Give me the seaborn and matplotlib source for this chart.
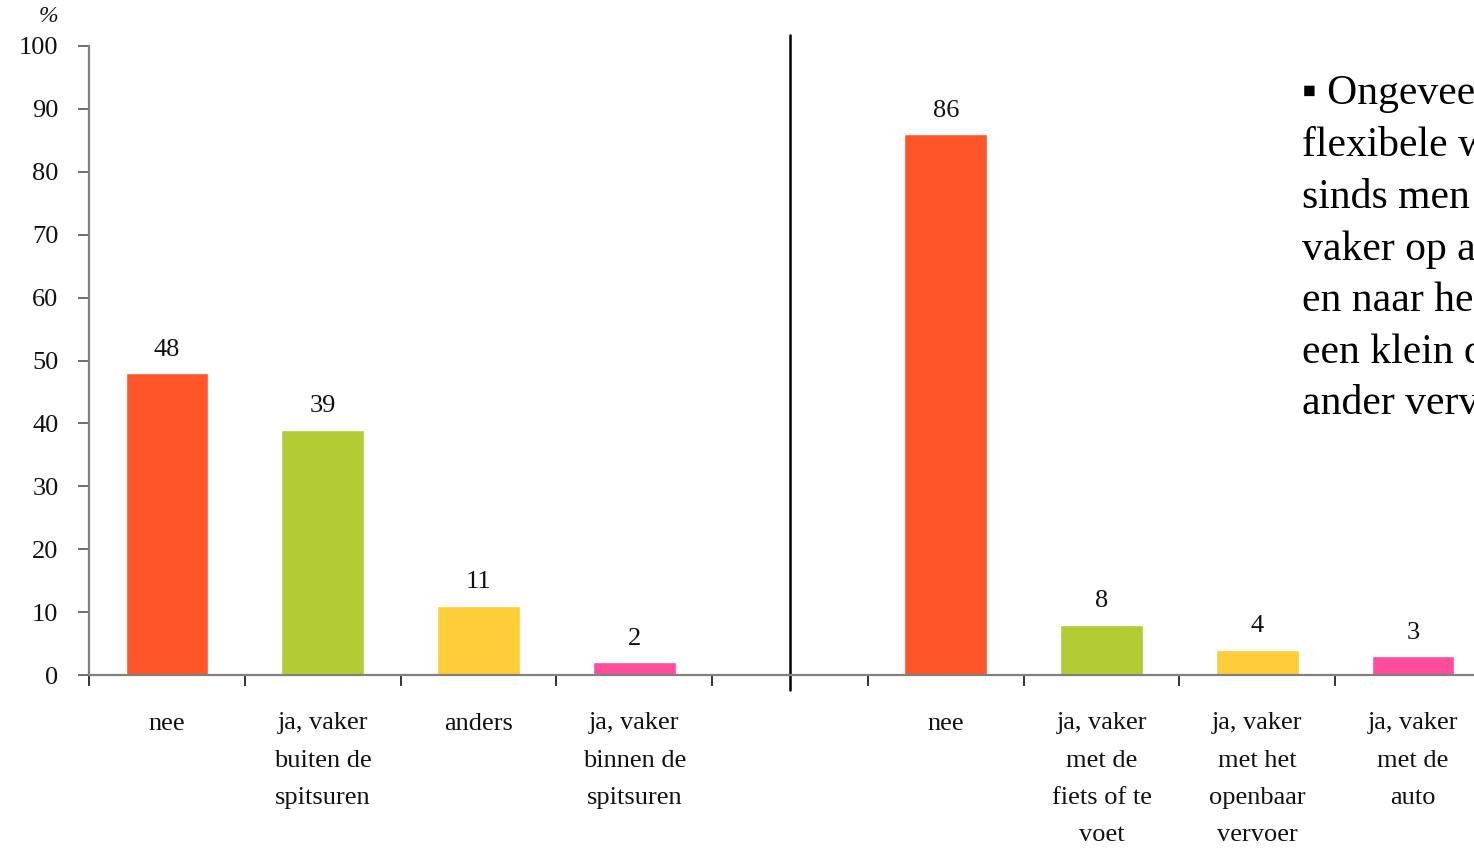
import matplotlib
matplotlib.use("Agg")
import matplotlib.pyplot as plt
import seaborn as sns
import pandas as pd
import numpy as np

# ---- data ----
left_categories = ["nee", "ja, vaker\nbuiten de\nspitsuren", "anders", "ja, vaker\nbinnen de\nspitsuren"]
left_values = [48, 39, 11, 2]
right_categories = ["nee", "ja, vaker\nmet de\nfiets of te\nvoet", "ja, vaker\nmet het\nopenbaar\nvervoer",
                    "ja, vaker\nmet de\nauto"]
right_values = [86, 8, 4, 3]
bar_colors = ["#FF5529", "#B3CC33", "#FFCC3A", "#FF4D9C"]
yticks = [0, 10, 20, 30, 40, 50, 60, 70, 80, 90, 100]
side_text = ("\u25aa Ongeveer de helft\n"
             "flexibele werktijden\n"
             "sinds men die heeft\n"
             "vaker op andere tijden\n"
             "en naar het werk;\n"
             "een klein deel met\n"
             "ander vervoer")

sns.set_theme(style="white")
plt.rcParams["font.family"] = ["Liberation Serif", "DejaVu Serif"]

left_pos = [0, 1, 2, 3]
right_pos = [5, 6, 7, 8]
df = pd.DataFrame({
    "pos": left_pos + right_pos,
    "value": left_values + right_values,
    "kind": ["c0", "c1", "c2", "c3"] * 2,
})

fig = plt.figure(figsize=(14.74, 8.49), dpi=100)
W, H = 1474, 849
x0, x1 = 89, 1491
y0, y1 = 675, 46
ax = fig.add_axes([x0 / W, (H - y0) / H, (x1 - x0) / W, (y0 - y1) / H])

sns.barplot(data=df, x="pos", y="value", hue="kind", native_scale=True,
            palette=dict(zip(["c0", "c1", "c2", "c3"], bar_colors)),
            width=0.53, legend=False, ax=ax, saturation=1)

ax.set_xlim(-0.5, 8.5)
ax.set_ylim(0, 100)

# value labels
for p, v in zip(df["pos"], df["value"]):
    ax.annotate(f"{v}", (p, v), xytext=(0, 9), textcoords="offset points",
                ha="center", va="bottom", fontsize=19, color="#111111")

# spines
for s in ["top", "right"]:
    ax.spines[s].set_visible(False)
ax.spines["left"].set_color("#808080")
ax.spines["bottom"].set_color("#808080")
ax.spines["left"].set_linewidth(1.6)
ax.spines["bottom"].set_linewidth(1.6)

# y ticks
ax.set_yticks(yticks)
ax.set_yticklabels([str(t) for t in yticks], fontsize=19, color="#111111")
ax.tick_params(axis="y", direction="out", length=8, width=1.2, color="#555555", pad=14, left=True)

# x ticks: labels at centers, tick marks at boundaries
ax.set_xticks(left_pos + right_pos)
ax.set_xticklabels(left_categories + right_categories, fontsize=19, color="#111111")
ax.tick_params(axis="x", which="major", length=0, pad=27, bottom=True)
ax.set_xticks(np.arange(-0.5, 9.0, 1.0), minor=True)
ax.tick_params(axis="x", which="minor", direction="out", length=8, width=1.2, color="#111111", bottom=True)
for lab in ax.get_xticklabels():
    lab.set_va("top")
    lab.set_linespacing(1.89)

ax.set_xlabel("")
ax.set_ylabel("")
ax.grid(False)

# separator line
ax.axvline(4, ymin=-15 / 629, ymax=640 / 629, color="black", lw=1.8, clip_on=False)

# percent sign
fig.text(48 / W, 1 - 17 / H, "%", fontsize=17, style="italic", ha="center", va="center", color="#111111")

# side text
fig.text(1302 / W, 1 - 74 / H, side_text, fontsize=30, ha="left", va="top",
         linespacing=1.44, color="black")

fig.savefig("out.png", dpi=100)
